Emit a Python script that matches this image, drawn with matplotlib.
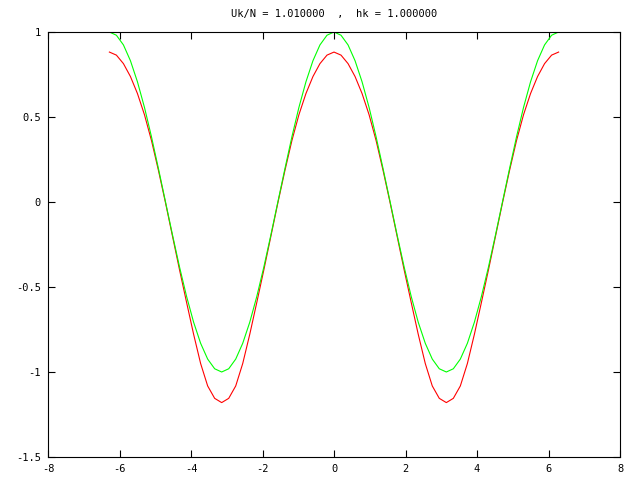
import matplotlib
matplotlib.use("Agg")
import matplotlib.pyplot as plt

# sample positions (step pi/16 from -2pi to 2pi)
x_vals = [-6.283, -6.087, -5.890, -5.694, -5.498, -5.301, -5.105, -4.909,
          -4.712, -4.516, -4.320, -4.123, -3.927, -3.731, -3.534, -3.338,
          -3.142, -2.945, -2.749, -2.553, -2.356, -2.160, -1.963, -1.767,
          -1.571, -1.374, -1.178, -0.982, -0.785, -0.589, -0.393, -0.196,
          0.000, 0.196, 0.393, 0.589, 0.785, 0.982, 1.178, 1.374,
          1.571, 1.767, 1.963, 2.160, 2.356, 2.553, 2.749, 2.945,
          3.142, 3.338, 3.534, 3.731, 3.927, 4.123, 4.320, 4.516,
          4.712, 4.909, 5.105, 5.301, 5.498, 5.694, 5.890, 6.087, 6.283]

green_vals = [1.000, 0.981, 0.924, 0.831, 0.707, 0.556, 0.383, 0.195,
              0.000, -0.195, -0.383, -0.556, -0.707, -0.831, -0.924, -0.981,
              -1.000, -0.981, -0.924, -0.831, -0.707, -0.556, -0.383, -0.195,
              0.000, 0.195, 0.383, 0.556, 0.707, 0.831, 0.924, 0.981,
              1.000, 0.981, 0.924, 0.831, 0.707, 0.556, 0.383, 0.195,
              0.000, -0.195, -0.383, -0.556, -0.707, -0.831, -0.924, -0.981,
              -1.000, -0.981, -0.924, -0.831, -0.707, -0.556, -0.383, -0.195,
              0.000, 0.195, 0.383, 0.556, 0.707, 0.831, 0.924, 0.981, 1.000]

red_vals = [0.882, 0.864, 0.814, 0.738, 0.638, 0.513, 0.361, 0.184,
            -0.006, -0.203, -0.400, -0.591, -0.778, -0.950, -1.082, -1.155,
            -1.180, -1.155, -1.082, -0.950, -0.778, -0.591, -0.400, -0.203,
            -0.006, 0.184, 0.361, 0.513, 0.638, 0.738, 0.814, 0.864,
            0.882, 0.864, 0.814, 0.738, 0.638, 0.513, 0.361, 0.184,
            -0.006, -0.203, -0.400, -0.591, -0.778, -0.950, -1.082, -1.155,
            -1.180, -1.155, -1.082, -0.950, -0.778, -0.591, -0.400, -0.203,
            -0.006, 0.184, 0.361, 0.513, 0.638, 0.738, 0.814, 0.864, 0.882]

x_ticks = [-8, -6, -4, -2, 0, 2, 4, 6, 8]
x_labels = ["-8", "-6", "-4", "-2", "0", "2", "4", "6", "8"]
y_ticks = [-1.5, -1, -0.5, 0, 0.5, 1]
y_labels = ["-1.5", "-1", "-0.5", "0", "0.5", "1"]

title = "Uk/N = 1.010000  ,  hk = 1.000000"

plt.rcParams['font.family'] = ['DejaVu Sans Mono']
plt.rcParams['font.size'] = 7.5

fig = plt.figure(figsize=(6.4, 4.8), dpi=100)
ax = fig.add_axes([48 / 640, 1 - 457 / 480, 572 / 640, 425 / 480])

ax.plot(x_vals, red_vals, color="#ff0000", lw=0.8)
ax.plot(x_vals, green_vals, color="#00ff00", lw=0.8)

ax.set_xlim(-8, 8)
ax.set_ylim(-1.5, 1)
ax.set_xticks(x_ticks)
ax.set_xticklabels(x_labels)
ax.set_yticks(y_ticks)
ax.set_yticklabels(y_labels)
ax.tick_params(direction="in", length=5, width=0.8, top=True, right=True, pad=5)
for s in ax.spines.values():
    s.set_linewidth(0.8)

fig.text(334 / 640, 1 - 14 / 480, title, ha="center", va="center")

fig.savefig("out.png", dpi=100)
